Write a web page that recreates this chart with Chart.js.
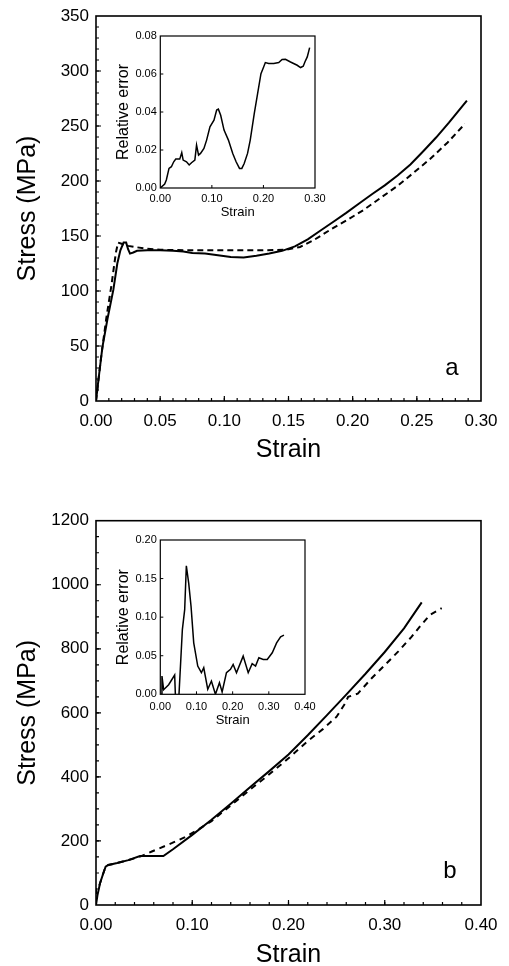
<!DOCTYPE html>
<html>
<head>
<meta charset="utf-8">
<script src="https://cdn.jsdelivr.net/npm/chart.js@4.4.1/dist/chart.umd.min.js"></script>
<style>
  html, body { margin: 0; padding: 0; background: #fff; }
  #page { position: relative; width: 509px; height: 966px; overflow: hidden; }
  canvas { position: absolute; }
</style>
</head>
<body>
<div id="page">
  <canvas id="mainA" width="509" height="480" style="left:0;top:0"></canvas>
  <canvas id="insetA" width="230" height="200" style="left:100px;top:26px"></canvas>
  <canvas id="mainB" width="509" height="486" style="left:0;top:480px"></canvas>
  <canvas id="insetB" width="220" height="205" style="left:100px;top:528px"></canvas>
</div>
<script>
// panel a: stress vs strain, experiment (solid) and model (dashed)
const aSolidStrain = [0, 0.0025, 0.005, 0.009, 0.0135, 0.0166, 0.019, 0.0215, 0.0235, 0.025, 0.0265, 0.029, 0.032, 0.04, 0.05, 0.06, 0.068, 0.075, 0.085, 0.095, 0.105, 0.115, 0.125, 0.135, 0.145, 0.155, 0.165, 0.175, 0.185, 0.195, 0.205, 0.215, 0.225, 0.235, 0.245, 0.255, 0.265, 0.275, 0.289];
const aSolidStress = [0, 25, 49, 75, 101, 125, 137, 144, 144, 138, 134, 135, 136.5, 137, 137, 136.5, 136, 134.5, 134, 132.5, 131, 130.5, 132, 134, 136.5, 140.5, 147, 155, 163, 171, 179.5, 188, 196, 205, 215, 227, 239.5, 253, 273];
const aDashStrain = [0, 0.004, 0.008, 0.012, 0.0155, 0.0172, 0.02, 0.025, 0.03, 0.04, 0.05, 0.07, 0.1, 0.13, 0.148, 0.159, 0.17, 0.1823, 0.195, 0.2083, 0.221, 0.2343, 0.247, 0.2603, 0.274, 0.2875];
const aDashStress = [0, 40, 75, 105, 135, 144, 143, 141, 140, 138.5, 137.5, 137, 137, 137, 137.5, 140, 146.5, 155.5, 164, 173.5, 184, 195, 207, 220, 235, 252];
// inset a: relative error
const aErrStrain = [0, 0.0085, 0.0117, 0.0169, 0.0215, 0.026, 0.03, 0.0377, 0.0416, 0.0443, 0.0508, 0.056, 0.0605, 0.067, 0.0703, 0.0742, 0.078, 0.0846, 0.0898, 0.0963, 0.1041, 0.1093, 0.1126, 0.1171, 0.1236, 0.1321, 0.1405, 0.147, 0.1536, 0.1581, 0.1627, 0.1692, 0.1744, 0.1822, 0.1887, 0.1952, 0.2004, 0.2037, 0.2102, 0.22, 0.2297, 0.2362, 0.2427, 0.2525, 0.2655, 0.272, 0.2772, 0.2804, 0.285, 0.2896];
const aErrValue = [0, 0.0021, 0.0042, 0.0103, 0.0112, 0.0138, 0.0152, 0.0152, 0.0186, 0.0147, 0.0138, 0.0121, 0.0133, 0.0147, 0.0226, 0.0173, 0.0182, 0.0208, 0.0252, 0.0322, 0.0357, 0.041, 0.0415, 0.0383, 0.0305, 0.0252, 0.0182, 0.0138, 0.0103, 0.0103, 0.0129, 0.0182, 0.0252, 0.0392, 0.0497, 0.0602, 0.0637, 0.066, 0.0655, 0.0655, 0.066, 0.0676, 0.0677, 0.0663, 0.0646, 0.0634, 0.0641, 0.0663, 0.069, 0.0739];

// panel b
const bSolidStrain = [0, 0.0015, 0.0042, 0.0076, 0.01, 0.0128, 0.022, 0.0336, 0.0457, 0.07, 0.08, 0.1, 0.12, 0.14, 0.16, 0.18, 0.2, 0.22, 0.24, 0.26, 0.28, 0.3, 0.32, 0.3384];
const bSolidStress = [0, 30, 68, 99, 120, 125, 131, 140, 153, 153, 174, 219, 266, 316, 368, 418, 470, 530, 593, 657, 722, 790, 864, 945];
const bDashStrain = [0, 0, 0.0024, 0.0042, 0.0076, 0.01, 0.0128, 0.022, 0.0336, 0.0457, 0.058, 0.0786, 0.0925, 0.1063, 0.12, 0.14, 0.16, 0.18, 0.2, 0.22, 0.236, 0.25, 0.2585, 0.262, 0.272, 0.2864, 0.302, 0.3141, 0.328, 0.3366, 0.347, 0.3592];
const bDashStress = [0, 53, 53, 68, 99, 120, 125, 131, 140, 151, 167, 193, 212, 236, 262, 311, 360, 408, 458, 512, 550, 588, 628, 650, 660, 708, 755, 792, 838, 870, 906, 927];
// inset b: relative error (dips below zero near 0.045, clipped by the frame)
const bErrStrain = [0.002, 0.0046, 0.0092, 0.0231, 0.0397, 0.0458, 0.061, 0.0674, 0.072, 0.0785, 0.085, 0.0924, 0.1035, 0.1136, 0.1201, 0.1312, 0.1413, 0.1524, 0.1635, 0.1709, 0.1829, 0.194, 0.2014, 0.2106, 0.2291, 0.243, 0.254, 0.2633, 0.2725, 0.2845, 0.2956, 0.3095, 0.3215, 0.3326, 0.3418];
const bErrValue = [0, 0.0237, 0.006, 0.0125, 0.025, -0.053, 0.0839, 0.1097, 0.1665, 0.1441, 0.114, 0.0667, 0.0366, 0.028, 0.0344, 0.0065, 0.0172, 0, 0.0151, 0.003, 0.028, 0.0323, 0.0387, 0.028, 0.0495, 0.028, 0.0396, 0.0366, 0.0473, 0.0452, 0.0452, 0.0538, 0.0667, 0.0744, 0.0766];

const FONT = '"Liberation Sans", Arial, Helvetica, sans-serif';
Chart.defaults.font.family = FONT;
Chart.defaults.color = '#000';

const toPoints = (xs, ys) => xs.map((x, i) => ({ x, y: ys[i] }));
const line = (xs, ys, width, dash) => ({
    data: toPoints(xs, ys), borderColor: '#000', borderWidth: width,
    borderDash: dash || [], pointRadius: 0, fill: false, tension: 0
});

// box frame, inward tick marks and panel letter
const frameTicks = {
    id: 'frameTicks',
    afterDraw(chart, args, o) {
        const { ctx, chartArea: a, scales: { x, y } } = chart;
        ctx.save();
        ctx.strokeStyle = '#000';
        ctx.lineWidth = o.tickWidth;
        const marks = (scale, step, len, horiz) => {
            if (!step) return;
            const n = Math.round((scale.max - scale.min) / step);
            ctx.beginPath();
            for (let i = 1; i < n; i++) {
                const p = scale.getPixelForValue(scale.min + i * step);
                if (horiz) { ctx.moveTo(p, a.bottom); ctx.lineTo(p, a.bottom - len); }
                else { ctx.moveTo(a.left, p); ctx.lineTo(a.left + len, p); }
            }
            ctx.stroke();
        };
        marks(x, o.xMinor, o.minorLen, true);
        marks(y, o.yMinor, o.minorLen, false);
        marks(x, o.xMajor, o.majorLen, true);
        marks(y, o.yMajor, o.majorLen, false);
        ctx.lineWidth = o.frameWidth;
        ctx.strokeRect(a.left, a.top, a.right - a.left, a.bottom - a.top);
        if (o.label) {
            ctx.font = `24px ${FONT}`;
            ctx.fillStyle = '#000';
            ctx.textAlign = 'center';
            ctx.textBaseline = 'alphabetic';
            ctx.fillText(o.label, a.right - o.labelDx, a.bottom - o.labelDy);
        }
        ctx.restore();
    }
};

function makeChart(id, o) {
    return new Chart(document.getElementById(id), {
        type: 'line',
        data: { datasets: o.datasets },
        options: {
            responsive: false,
            animation: false,
            layout: { padding: o.padding, autoPadding: false },
            plugins: { legend: { display: false }, tooltip: { enabled: false }, frameTicks: o.marks },
            scales: {
                x: {
                    type: 'linear', min: o.x.min, max: o.x.max,
                    afterFit: s => { s.height = o.x.size; s.paddingLeft = 0; s.paddingRight = 0; },
                    grid: { display: false, drawTicks: false }, border: { display: false },
                    ticks: { stepSize: o.x.step, autoSkip: false, maxRotation: 0, padding: o.x.pad,
                        font: { size: o.x.font, lineHeight: 1 }, callback: v => v.toFixed(2) },
                    title: { display: true, text: 'Strain', font: { size: o.x.titleFont, lineHeight: 1 },
                        padding: { top: 0, bottom: o.x.titlePad } }
                },
                y: {
                    type: 'linear', min: o.y.min, max: o.y.max,
                    afterFit: s => { s.width = o.y.size; s.paddingTop = 0; s.paddingBottom = 0; },
                    grid: { display: false, drawTicks: false }, border: { display: false },
                    ticks: { stepSize: o.y.step, autoSkip: false, padding: o.y.pad,
                        font: { size: o.y.font, lineHeight: 1 }, callback: o.y.fmt },
                    title: { display: true, text: o.y.title, font: { size: o.y.titleFont, lineHeight: 1 },
                        padding: { top: o.y.titlePad, bottom: 0 } }
                }
            }
        },
        plugins: [frameTicks]
    });
}

const intFmt = v => String(Math.round(v));
const fix2 = v => v.toFixed(2);

makeChart('mainA', {
    datasets: [line(aSolidStrain, aSolidStress, 2), line(aDashStrain, aDashStress, 2, [6, 4])],
    padding: { left: 0, top: 16, right: 28, bottom: 0 },
    x: { min: 0, max: 0.3, step: 0.05, size: 79, pad: 12.2, font: 17, titleFont: 25, titlePad: 17.5 },
    y: { min: 0, max: 350, step: 50, size: 96, pad: 7, font: 17, fmt: intFmt, title: 'Stress (MPa)', titleFont: 25, titlePad: 15.5 },
    marks: { xMinor: 0.01, yMinor: 10, xMajor: 0.05, yMajor: 50, minorLen: 3, majorLen: 5, tickWidth: 1.2, frameWidth: 1.6, label: 'a', labelDx: 29, labelDy: 26 }
});

makeChart('insetA', {
    datasets: [line(aErrStrain, aErrValue, 1.5)],
    padding: { left: 0, top: 10, right: 15, bottom: 0 },
    x: { min: 0, max: 0.3, step: 0.1, size: 38, pad: 5.5, font: 11, titleFont: 13, titlePad: 6.8 },
    y: { min: 0, max: 0.08, step: 0.02, size: 60.3, pad: 3.5, font: 11, fmt: fix2, title: 'Relative error', titleFont: 16, titlePad: 15.3 },
    marks: { xMajor: 0.1, yMajor: 0.02, majorLen: 3, tickWidth: 1, frameWidth: 1.2 }
});

makeChart('mainB', {
    datasets: [line(bSolidStrain, bSolidStress, 2), line(bDashStrain, bDashStress, 2, [6, 5])],
    padding: { left: 0, top: 40.7, right: 28, bottom: 0 },
    x: { min: 0, max: 0.4, step: 0.1, size: 61, pad: 11.5, font: 17, titleFont: 25, titlePad: -1.5 },
    y: { min: 0, max: 1200, step: 200, size: 96, pad: 7, font: 17, fmt: intFmt, title: 'Stress (MPa)', titleFont: 25, titlePad: 15.5 },
    marks: { xMinor: 0.02, yMinor: 50, xMajor: 0.1, yMajor: 200, minorLen: 3, majorLen: 5, tickWidth: 1.2, frameWidth: 1.6, label: 'b', labelDx: 31, labelDy: 27 }
});

makeChart('insetB', {
    datasets: [line(bErrStrain, bErrValue, 1.5)],
    padding: { left: 0, top: 12, right: 15, bottom: 0 },
    x: { min: 0, max: 0.4, step: 0.1, size: 38.7, pad: 6.9, font: 11, titleFont: 13, titlePad: 6.5 },
    y: { min: 0, max: 0.2, step: 0.05, size: 60.3, pad: 3.5, font: 11, fmt: fix2, title: 'Relative error', titleFont: 16, titlePad: 15.3 },
    marks: { xMajor: 0.1, yMajor: 0.05, majorLen: 3, tickWidth: 1, frameWidth: 1.2 }
});
</script>
</body>
</html>
